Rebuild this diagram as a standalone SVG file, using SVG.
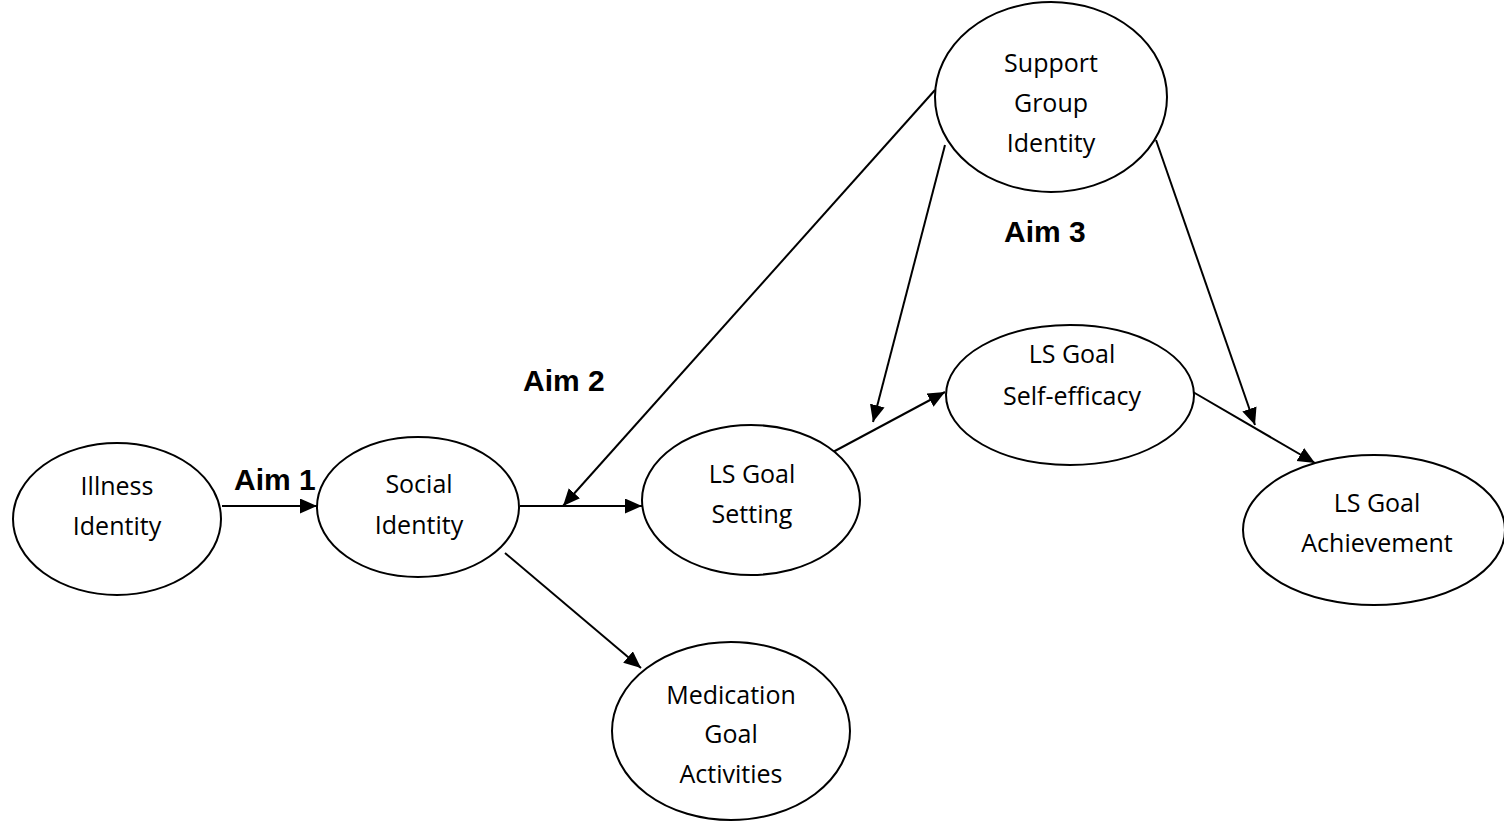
<svg xmlns="http://www.w3.org/2000/svg" width="1504" height="822" viewBox="0 0 1504 822">
  <style>
    .node ellipse { fill: #ffffff; stroke: #000000; stroke-width: 2; }
    .node text { font-family: "Open Sans", "Liberation Sans", sans-serif; font-size: 25px; fill: #000000; text-anchor: middle; }
    .edge { stroke: #000000; stroke-width: 2; fill: none; marker-end: url(#arrow); }
    .aim { font-family: "Liberation Sans", Arial, sans-serif; font-size: 30px; font-weight: bold; fill: #000000; }
  </style>
  <defs>
    <marker id="arrow" markerUnits="userSpaceOnUse" markerWidth="18" markerHeight="16" refX="17" refY="7.5" orient="auto">
      <path d="M0,0 L17,7.5 L0,15 z" fill="#000000"/>
    </marker>
  </defs>
  <rect width="1504" height="822" fill="#ffffff"/>

  <!-- connectors -->
  <g id="connectors">
    <line class="edge" x1="222" y1="506" x2="317" y2="506"/>
    <line class="edge" x1="520" y1="506" x2="642" y2="506"/>
    <line class="edge" x1="935" y1="90" x2="563" y2="506"/>
    <line class="edge" x1="945" y1="145" x2="873" y2="422"/>
    <line class="edge" x1="833" y1="452" x2="945" y2="392"/>
    <line class="edge" x1="1193" y1="392" x2="1315" y2="463"/>
    <line class="edge" x1="1156" y1="140" x2="1255" y2="425"/>
    <line class="edge" x1="505" y1="553" x2="641" y2="668"/>
  </g>

  <!-- nodes -->
  <g id="illness-identity" class="node">
    <ellipse cx="117" cy="519" rx="104" ry="76"/>
    <text x="117" y="495">Illness</text>
    <text x="117" y="535">Identity</text>
  </g>
  <g id="social-identity" class="node">
    <ellipse cx="418" cy="507" rx="101" ry="70"/>
    <text x="419" y="493">Social</text>
    <text x="419" y="534">Identity</text>
  </g>
  <g id="ls-goal-setting" class="node">
    <ellipse cx="751" cy="500" rx="109" ry="75"/>
    <text x="752" y="483">LS Goal</text>
    <text x="752" y="523">Setting</text>
  </g>
  <g id="ls-goal-self-efficacy" class="node">
    <ellipse cx="1070" cy="395" rx="124" ry="70"/>
    <text x="1072" y="363">LS Goal</text>
    <text x="1072" y="405">Self-efficacy</text>
  </g>
  <g id="ls-goal-achievement" class="node">
    <ellipse cx="1374" cy="530" rx="131" ry="75"/>
    <text x="1377" y="512">LS Goal</text>
    <text x="1377" y="552">Achievement</text>
  </g>
  <g id="support-group-identity" class="node">
    <ellipse cx="1051" cy="97" rx="116" ry="95"/>
    <text x="1051" y="72">Support</text>
    <text x="1051" y="112">Group</text>
    <text x="1051" y="152">Identity</text>
  </g>
  <g id="medication-goal-activities" class="node">
    <ellipse cx="731" cy="731" rx="119" ry="89"/>
    <text x="731" y="704">Medication</text>
    <text x="731" y="743">Goal</text>
    <text x="731" y="783">Activities</text>
  </g>

  <!-- aim labels -->
  <g id="aims">
    <text class="aim" x="234" y="490">Aim 1</text>
    <text class="aim" x="523" y="391">Aim 2</text>
    <text class="aim" x="1004" y="242">Aim 3</text>
  </g>
</svg>
